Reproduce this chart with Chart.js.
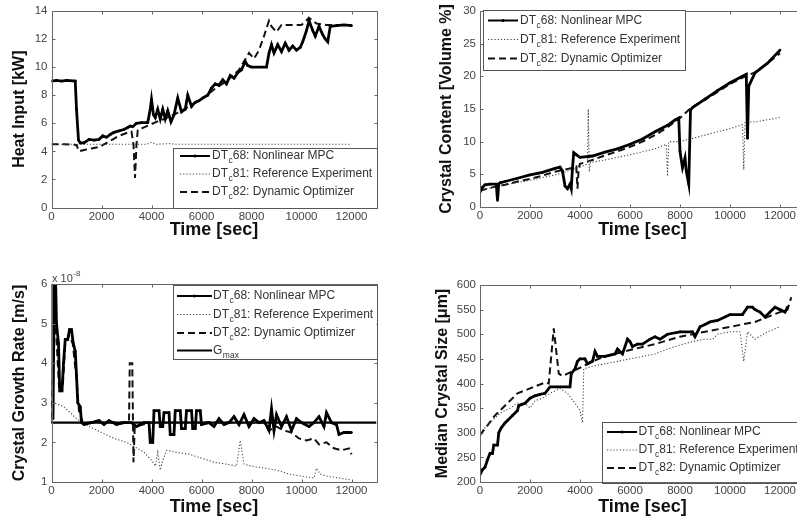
<!DOCTYPE html>
<html><head><meta charset="utf-8">
<script src="https://cdn.jsdelivr.net/npm/chart.js@4.4.0/dist/chart.umd.min.js"></script>
<style>
html,body{margin:0;padding:0;background:#fff;}
body{width:797px;height:521px;overflow:hidden;position:relative;}
canvas{position:absolute;}
</style></head>
<body>
<canvas id="c1"></canvas><canvas id="c2"></canvas><canvas id="c3"></canvas><canvas id="c4"></canvas>
<script>
// ---------------- DATA ----------------
const xTicks = [0,2000,4000,6000,8000,10000,12000];
const heatTicks = [0,2,4,6,8,10,12,14];
const contentTicks = [0,5,10,15,20,25,30];
const growthTicks = [1,2,3,4,5,6];      // x 10^-8 m/s
const sizeTicks = [200,250,300,350,400,450,500,550,600];

const nameMPC = ['DT','c','68: Nonlinear MPC'];
const nameRef = ['DT','c','81: Reference Experiment'];
const nameDyn = ['DT','c','82: Dynamic Optimizer'];
const nameGmax = ['G','max',''];

// Heat input [kW]
const heatMPC = [[0,9.0],[200,9.05],[400,9.0],[600,9.05],[950,9.0],[1000,7.0],[1080,4.8],[1150,4.6],[1300,4.6],[1500,4.85],[1700,4.8],[1900,4.85],[2050,5.1],[2200,5.0],[2350,5.2],[2500,5.35],[2700,5.45],[2900,5.55],[3050,5.7],[3150,5.8],[3250,5.75],[3400,6.0],[3600,6.05],[3850,6.05],[3950,7.0],[4000,7.7],[4080,6.6],[4150,6.4],[4250,7.0],[4350,6.3],[4450,7.0],[4550,6.3],[4650,6.9],[4780,6.1],[4900,6.6],[5050,7.8],[5200,6.8],[5350,7.0],[5450,8.0],[5600,7.2],[5750,7.5],[5900,7.6],[6050,7.8],[6250,8.0],[6400,8.5],[6550,8.8],[6700,8.7],[6850,9.1],[7000,8.8],[7150,9.4],[7300,9.2],[7450,9.6],[7600,9.8],[7750,10.4],[7850,10.1],[8000,10.0],[8600,10.0],[8700,11.0],[8800,11.6],[8900,11.0],[9050,11.6],[9200,11.1],[9350,11.7],[9500,11.2],[9650,11.5],[9800,11.2],[9950,11.4],[10050,11.8],[10200,12.6],[10300,13.3],[10450,12.6],[10550,12.2],[10700,12.9],[10850,12.3],[10950,12.0],[11050,11.8],[11150,12.9],[11400,12.95],[11700,13.0],[12000,12.95]];
const heatRef = [[0,4.5],[1000,4.5],[2000,4.5],[3000,4.5],[3800,4.5],[4000,4.65],[4200,4.5],[4700,4.55],[5000,4.5],[6000,4.5],[7000,4.5],[8000,4.5],[9000,4.5],[10000,4.5],[11000,4.5],[12000,4.5]];
const heatDyn = [[0,4.5],[500,4.5],[1000,4.45],[1100,4.0],[1300,4.1],[1600,4.2],[1900,4.3],[2100,4.5],[2400,4.8],[2700,5.1],[3000,5.3],[3200,5.4],[3280,4.5],[3340,2.1],[3400,4.5],[3450,5.5],[3700,5.7],[3950,5.9],[4200,6.1],[4500,6.3],[5000,6.7],[5500,7.2],[6000,7.7],[6500,8.4],[7000,9.0],[7500,9.8],[7900,11.0],[8100,10.6],[8300,11.2],[8500,12.2],[8700,13.3],[8800,12.9],[9000,12.5],[9200,13.0],[9600,13.0],[10000,13.0],[10300,13.5],[10600,13.1],[11000,13.0],[12000,13.0]];

// Crystal content [Volume %]
const contMPC = [[0,2.3],[100,3.0],[200,3.4],[400,3.5],[650,3.5],[700,1.0],[750,3.5],[800,3.7],[1000,3.9],[1500,4.4],[2000,4.9],[2500,5.3],[3000,5.9],[3200,6.1],[3300,5.5],[3400,3.2],[3500,2.8],[3600,3.5],[3650,2.8],[3700,6.0],[3750,8.3],[3850,8.0],[4000,7.6],[4500,7.8],[5000,8.4],[5500,8.9],[6000,9.6],[6500,10.4],[7000,11.5],[7500,12.5],[7800,13.3],[7950,13.6],[8000,8.5],[8100,6.0],[8200,7.5],[8250,5.5],[8350,3.5],[8420,14.8],[8500,15.2],[9000,16.5],[9500,17.8],[10000,19.0],[10500,20.0],[10650,20.3],[10700,10.5],[10750,18.5],[11000,20.5],[11500,22.0],[12000,24.0]];
const contRef = [[0,2.5],[500,3.0],[1000,3.4],[2000,4.1],[3000,4.9],[4000,6.1],[4300,6.6],[4330,15.0],[4370,5.4],[4420,6.8],[5000,7.2],[6000,8.0],[7000,8.9],[7450,9.6],[7500,4.7],[7550,10.0],[8000,10.0],[9000,11.0],[10000,12.0],[10500,12.6],[10550,5.7],[10600,13.0],[11000,13.0],[12000,13.7]];
const contDyn = [[0,2.5],[500,3.0],[1000,3.4],[1500,3.9],[2000,4.3],[2500,4.8],[3000,5.4],[3500,5.8],[3850,6.2],[3900,2.8],[3950,6.0],[4000,6.6],[4500,7.2],[5000,7.9],[5500,8.5],[6000,9.2],[6500,10.0],[7000,11.0],[7500,12.2],[8000,13.6],[8450,15.2],[9000,16.4],[9500,17.6],[10000,18.8],[10500,19.8],[11000,20.6],[11500,22.0],[12000,23.5]];

// Crystal growth rate [x 10^-8 m/s]
const growMPC = [[0,2.5],[30,6.5],[60,2.6],[100,5.2],[150,6.5],[200,5.0],[280,4.5],[330,3.3],[420,3.3],[480,4.0],[550,4.6],[650,4.6],[720,4.85],[800,4.85],[870,4.5],[950,4.3],[1000,3.7],[1050,3.0],[1150,2.9],[1200,2.5],[1300,2.45],[1600,2.5],[1900,2.55],[2100,2.45],[2300,2.55],[2600,2.45],[2900,2.5],[3200,2.5],[3400,2.4],[3700,2.5],[3900,2.5],[3950,2.0],[4050,2.0],[4100,2.8],[4300,2.8],[4350,2.4],[4450,2.4],[4500,2.75],[4700,2.75],[4750,2.2],[4900,2.2],[4950,2.8],[5150,2.8],[5200,2.35],[5350,2.35],[5400,2.8],[5600,2.8],[5650,2.35],[5750,2.35],[5800,2.8],[5950,2.8],[6000,2.45],[6300,2.5],[6500,2.4],[6700,2.6],[6900,2.45],[7100,2.5],[7300,2.65],[7500,2.45],[7700,2.7],[7900,2.4],[8100,2.6],[8300,2.5],[8500,2.55],[8700,2.3],[8800,2.85],[8900,2.3],[9000,2.7],[9200,2.4],[9400,2.65],[9600,2.3],[9800,2.6],[10000,2.5],[10300,2.4],[10500,2.5],[10700,2.65],[10900,2.4],[11000,2.75],[11200,2.5],[11400,2.45],[11500,2.2],[11700,2.25],[12000,2.25]];
const growRef = [[0,3.2],[100,3.0],[500,2.9],[1000,2.6],[1500,2.4],[2000,2.25],[2500,2.1],[3000,2.0],[3300,1.9],[3700,1.75],[4000,1.55],[4150,1.4],[4250,1.75],[4350,1.3],[4450,1.55],[4600,1.8],[5000,1.75],[5500,1.7],[6000,1.6],[6500,1.5],[7000,1.45],[7400,1.4],[7550,2.05],[7700,1.45],[8000,1.4],[8500,1.35],[9000,1.3],[9500,1.2],[10000,1.15],[10500,1.1],[10600,1.35],[10750,1.2],[11000,1.15],[11500,1.1],[12000,1.05]];
const growDyn = [[0,2.6],[100,5.0],[200,4.6],[300,3.4],[450,3.4],[550,4.5],[700,4.7],[850,4.5],[1000,3.6],[1100,2.8],[1250,2.5],[2000,2.5],[3000,2.5],[3100,2.5],[3130,4.0],[3230,4.0],[3280,1.5],[3330,2.4],[4000,2.5],[5000,2.5],[6000,2.5],[7000,2.5],[8000,2.5],[8500,2.5],[8700,2.3],[9000,2.4],[9300,2.3],[9600,2.25],[9900,2.1],[10200,2.05],[10500,2.1],[10700,1.95],[11000,2.0],[11300,1.85],[11600,1.8],[11900,1.85],[12000,1.7]];
const growGmax = [[0,2.5],[13000,2.5]];

// Median crystal size [um]
const sizeMPC = [[0,215],[100,225],[200,230],[300,245],[400,258],[500,258],[550,275],[700,275],[750,300],[850,310],[1000,320],[1100,325],[1300,335],[1500,345],[1550,355],[1800,360],[2000,370],[2200,375],[2400,378],[2600,380],[2800,393],[3600,393],[3650,420],[3800,430],[3900,445],[4000,450],[4200,450],[4300,440],[4500,445],[4600,465],[4700,455],[5000,455],[5400,460],[5500,470],[5700,460],[5900,490],[6000,485],[6100,475],[6300,480],[6500,480],[6800,490],[7000,495],[7200,490],[7500,500],[8000,505],[8500,505],[8600,495],[8800,515],[9000,520],[9200,525],[9500,528],[9800,535],[10000,540],[10500,540],[10700,555],[10900,555],[11000,550],[11200,545],[11400,535],[11600,545],[11800,555],[12000,550],[12200,545],[12300,555]];
const sizeRef = [[0,300],[500,325],[800,340],[1200,350],[1500,360],[1800,360],[2000,350],[2200,365],[2500,370],[2800,380],[3200,390],[3500,380],[3800,360],[4000,345],[4100,320],[4150,430],[4500,435],[5000,440],[5500,445],[6000,450],[6500,455],[7000,460],[7500,470],[8000,478],[8500,485],[9000,490],[9300,490],[9500,500],[10000,505],[10400,505],[10550,445],[10700,505],[10900,495],[11000,490],[11500,505],[12000,515]];
const sizeDyn = [[0,295],[300,315],[600,335],[800,345],[1200,365],[1500,380],[2000,390],[2400,398],[2600,402],[2750,400],[2950,512],[3150,420],[3300,415],[3500,420],[4000,432],[4500,445],[5000,455],[6000,468],[7000,480],[8000,495],[9000,505],[10000,515],[11000,525],[11500,535],[12000,545],[12300,550],[12450,575]];

// ---------------- STYLE / LAYOUT ----------------
const FONT = "'Liberation Sans', Arial, Helvetica, sans-serif";
const styles = {
  mpc: {borderColor:'#000', borderWidth:2.8, pointRadius:1.3, pointBackgroundColor:'#000', pointBorderWidth:0, borderDash:[]},
  ref: {borderColor:'#444', borderWidth:1.1, borderDash:[1.2,2], pointRadius:0},
  dyn: {borderColor:'#111', borderWidth:2, borderDash:[7,4], pointRadius:0},
  gmax:{borderColor:'#000', borderWidth:2.2, borderDash:[], pointRadius:0}
};

const panels = [
  {id:'c1', box:[0,0,400,260], area:[51.5,10,376.5,207.5], yTitle:'Heat Input [kW]', yMin:0, yMax:14, yTicks:heatTicks,
   series:[heatMPC, heatRef, heatDyn], kinds:['mpc','ref','dyn'], names:[nameMPC,nameRef,nameDyn], yTitleX:20, xTitleY:230, step:false,
   legend:{box:[173,148,377,208], rows:[156,174,192], sx:[180,210], tx:212}},
  {id:'c2', box:[400,0,420,260], area:[480,10,805,207], yTitle:'Crystal Content [Volume %]', yMin:0, yMax:30, yTicks:contentTicks,
   series:[contMPC, contRef, contDyn], kinds:['mpc','ref','dyn'], names:[nameMPC,nameRef,nameDyn], yTitleX:446.7, xTitleY:230, step:false,
   legend:{box:[483,10,685,70], rows:[20.5,39.5,58.5], sx:[488,518], tx:520}},
  {id:'c3', box:[0,260,400,261], area:[51.5,284,376.5,482], yTitle:'Crystal Growth Rate [m/s]', yMin:1, yMax:6, yTicks:growthTicks,
   series:[growMPC, growRef, growDyn, growGmax], kinds:['mpc','ref','dyn','gmax'], names:[nameMPC,nameRef,nameDyn,nameGmax], yTitleX:20, xTitleY:507, step:false,
   legend:{box:[173,285,376.5,359], rows:[296,314.5,333,350.5], sx:[177,212], tx:213}, exponent:{x:52, y:281.5}},
  {id:'c4', box:[400,260,420,261], area:[480,285,805,482], yTitle:'Median Crystal Size [\u03bcm]', yMin:200, yMax:600, yTicks:sizeTicks,
   series:[sizeMPC, sizeRef, sizeDyn], kinds:['mpc','ref','dyn'], names:[nameMPC,nameRef,nameDyn], yTitleX:443, xTitleY:507, step:false,
   legend:{box:[601.5,421.5,812,482], rows:[432,450,468], sx:[607,637], tx:638.5}}
];
const panelById = {};
panels.forEach(p => { panelById[p.id] = p; });

function drawLabelParts(ctx, parts, x, y) {
  ctx.font = '12px ' + FONT;
  ctx.fillText(parts[0], x, y);
  x += ctx.measureText(parts[0]).width;
  ctx.font = '8.5px ' + FONT;
  ctx.fillText(parts[1], x + 0.5, y + 5);
  x += ctx.measureText(parts[1]).width + 0.5;
  ctx.font = '12px ' + FONT;
  ctx.fillText(parts[2], x, y);
}

const matlabPlugin = {
  id: 'matlab',
  afterDatasetsDraw(chart) {
    const p = panelById[chart.canvas.id];
    if (!p) return;
    const ctx = chart.ctx;
    const a = chart.chartArea;
    const xs = chart.scales.x, ys = chart.scales.y;
    ctx.save();
    ctx.strokeStyle = '#666';
    ctx.lineWidth = 1;
    ctx.setLineDash([]);
    const L = Math.round(a.left) + 0.5, R = Math.round(a.right) + 0.5, T = Math.round(a.top) + 0.5, B = Math.round(a.bottom) + 0.5;
    ctx.beginPath();
    ctx.rect(L, T, R - L, B - T);
    ctx.stroke();
    const tl = 3;
    ctx.beginPath();
    xTicks.forEach(v => {
      const px = Math.round(xs.getPixelForValue(v)) + 0.5;
      ctx.moveTo(px, B); ctx.lineTo(px, B - tl);
      ctx.moveTo(px, T); ctx.lineTo(px, T + tl);
    });
    p.yTicks.forEach(v => {
      const py = Math.round(ys.getPixelForValue(v)) + 0.5;
      ctx.moveTo(L, py); ctx.lineTo(L + tl, py);
      ctx.moveTo(R, py); ctx.lineTo(R - tl, py);
    });
    ctx.stroke();

    // legend
    const lg = p.legend, ox = p.box[0], oy = p.box[1];
    const [bx0, by0, bx1, by1] = lg.box;
    ctx.fillStyle = '#fff';
    ctx.fillRect(bx0 - ox, by0 - oy, bx1 - bx0, by1 - by0);
    ctx.strokeStyle = '#555';
    ctx.strokeRect(Math.round(bx0 - ox) + 0.5, Math.round(by0 - oy) + 0.5, Math.round(bx1 - bx0), Math.round(by1 - by0));
    chart.data.datasets.forEach((ds, i) => {
      const y = lg.rows[i] - oy;
      ctx.save();
      ctx.strokeStyle = ds.borderColor;
      ctx.lineWidth = ds.kind === 'ref' ? 1.1 : 2;
      ctx.setLineDash(ds.borderDash || []);
      ctx.beginPath();
      ctx.moveTo(lg.sx[0] - ox, y); ctx.lineTo(lg.sx[1] - ox, y);
      ctx.stroke();
      if (ds.kind === 'mpc') {
        ctx.fillStyle = '#000';
        ctx.beginPath();
        ctx.arc((lg.sx[0] + lg.sx[1]) / 2 - ox, y, 1.6, 0, Math.PI * 2);
        ctx.fill();
      }
      ctx.restore();
      ctx.fillStyle = '#333';
      ctx.textBaseline = 'middle';
      ctx.textAlign = 'left';
      drawLabelParts(ctx, ds.nameParts, lg.tx - ox, y);
    });

    if (p.exponent) {
      ctx.fillStyle = '#444';
      ctx.textBaseline = 'alphabetic';
      ctx.textAlign = 'left';
      ctx.font = '11px ' + FONT;
      const ex = p.exponent.x - ox, ey = p.exponent.y - oy;
      ctx.fillText('x 10', ex, ey);
      const w = ctx.measureText('x 10').width;
      ctx.font = '8px ' + FONT;
      ctx.fillText('-8', ex + w + 0.5, ey - 6);
    }
    ctx.restore();
  }
};

function makeChart(p) {
  const cv = document.getElementById(p.id);
  const [bx, by, bw, bh] = p.box;
  cv.width = bw; cv.height = bh;
  cv.style.left = bx + 'px'; cv.style.top = by + 'px';
  cv.style.width = bw + 'px'; cv.style.height = bh + 'px';
  const [L, T, R, B] = p.area;
  const yW = L - bx, xH = (by + bh) - B, padTop = T - by, padRight = (bx + bw) - R;
  const xTitleFont = 18, yTitleFont = 16;
  const xTitlePad = (by + bh - p.xTitleY) - xTitleFont * 1.2 / 2;
  const yTitlePad = (p.yTitleX - bx) - yTitleFont * 1.2 / 2;
  const datasets = p.series.map((d, i) => Object.assign({
    data: d, label: p.names[i].join(''), nameParts: p.names[i], kind: p.kinds[i],
    fill: false, tension: 0, stepped: p.step
  }, styles[p.kinds[i]]));
  return new Chart(cv, {
    type: 'line',
    data: { datasets },
    plugins: [matlabPlugin],
    options: {
      responsive: false, animation: false, devicePixelRatio: 1,
      layout: { padding: { left: 0, top: padTop, right: padRight, bottom: 0 } },
      plugins: { legend: { display: false }, tooltip: { enabled: false } },
      scales: {
        x: {
          type: 'linear', min: 0, max: 13000,
          afterBuildTicks: s => { s.ticks = xTicks.map(v => ({ value: v })); },
          afterFit: s => { s.height = xH; },
          grid: { display: false, drawTicks: false }, border: { display: false },
          ticks: { padding: 2, color: '#444', font: { family: FONT, size: 11.5 }, maxRotation: 0, autoSkip: false, callback: v => String(v) },
          title: { display: true, text: 'Time [sec]', color: '#111', font: { family: FONT, size: xTitleFont, weight: 'bold' }, padding: { top: 0, bottom: xTitlePad } }
        },
        y: {
          type: 'linear', min: p.yMin, max: p.yMax,
          afterBuildTicks: s => { s.ticks = p.yTicks.map(v => ({ value: v })); },
          afterFit: s => { s.width = yW; },
          grid: { display: false, drawTicks: false }, border: { display: false },
          ticks: { padding: 4, color: '#444', font: { family: FONT, size: 11.5 }, autoSkip: false, callback: v => String(v) },
          title: { display: true, text: p.yTitle, color: '#111', font: { family: FONT, size: yTitleFont, weight: 'bold' }, padding: { top: yTitlePad, bottom: 0 } }
        }
      }
    }
  });
}

panels.forEach(makeChart);
</script>
</body></html>
